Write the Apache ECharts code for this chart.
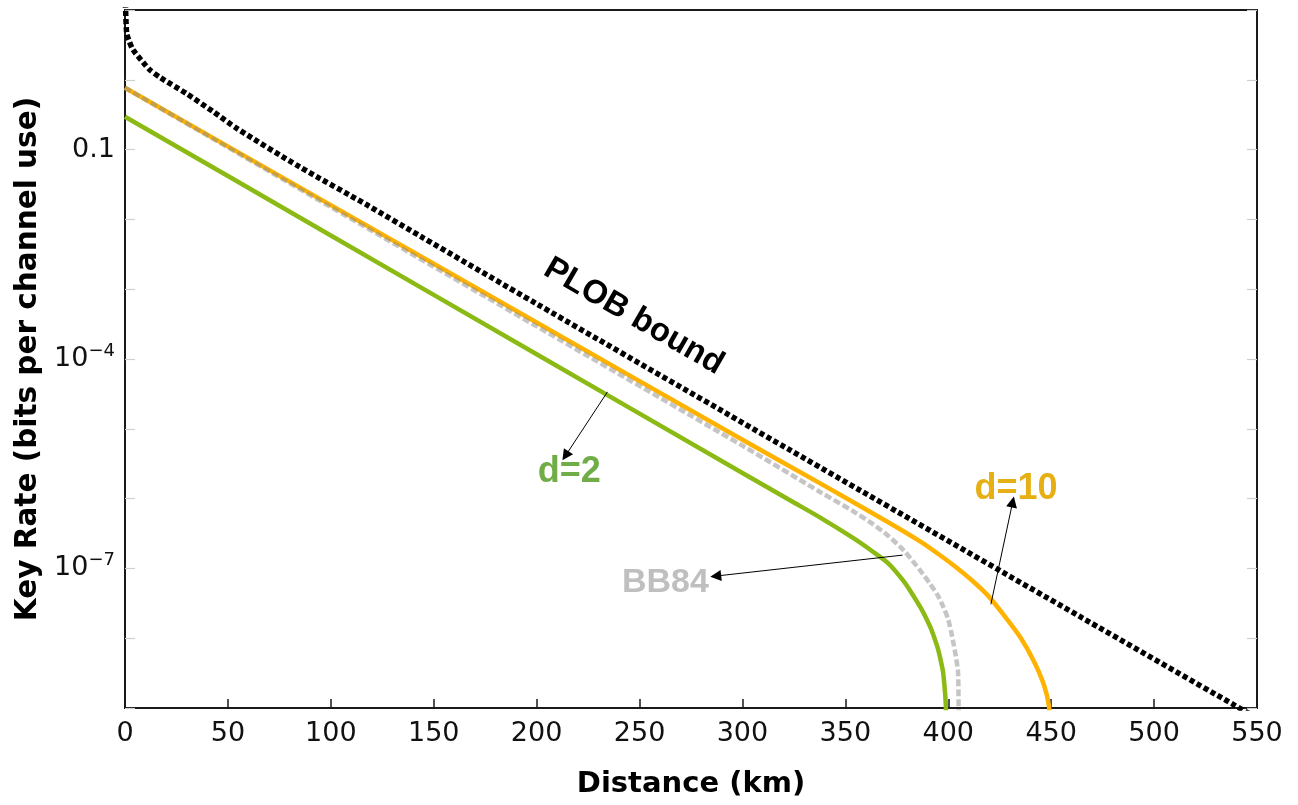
<!DOCTYPE html>
<html><head><meta charset="utf-8">
<script src="https://cdn.jsdelivr.net/npm/echarts@6/dist/echarts.min.js"></script>
<style>html,body{margin:0;padding:0;background:#fff}#c{width:1298px;height:805px}</style>
</head><body><div id="c"></div>
<script>
// ---- data ----
const plobKm   = [0.2, 0.8, 1.8, 3.9, 8.8, 12, 17, 30, 43, 54.5, 85, 118, 143.5, 200, 322, 464.5, 539, 550];
const plobRate = [12.6, 4.68, 3.72, 2.69, 1.78, 1.39, 1.084, 0.631, 0.347, 0.1995, 0.0562, 0.01585, 5.75e-3, 6.17e-4, 5.18e-6, 2.0e-8, 1.10e-9, 7.2e-10];

const d10Km   = [0, 100, 200, 300, 338, 370.6, 386.7, 395, 402.7, 411, 419.3, 427, 435.3, 441.6, 446.5, 448.9, 449.6];
const d10Rate = [0.769, 0.0160, 3.34e-4, 6.97e-6, 1.64e-6, 4.63e-7, 2.40e-7, 1.62e-7, 1.10e-7, 6.92e-8, 4.07e-8, 2.14e-8, 1.0e-8, 4.69e-9, 2.13e-9, 1.07e-9, 5e-10];

const bb84Km   = [0, 100, 200, 300, 338, 354.1, 362.5, 370.6, 378.4, 386.7, 391, 394.9, 397.6, 399.8, 401.5, 402.7, 403.9, 404.7, 404.95, 405.1];
const bb84Rate = [0.769, 0.01503, 2.94e-4, 5.74e-6, 1.23e-6, 6.52e-7, 4.5e-7, 2.96e-7, 1.81e-7, 9.06e-8, 6.1e-8, 4.11e-8, 2.8e-8, 1.93e-8, 1.2e-8, 7.94e-9, 5.0e-9, 3.38e-9, 1.8e-9, 5e-10];

const d2Km   = [0, 100, 200, 300, 325, 338, 354.1, 362.4, 370.6, 378.4, 382.5, 386.7, 389.2, 391.5, 393.3, 394.9, 396.2, 397.4, 398.2, 398.8, 399.0];
const d2Rate = [0.296, 5.89e-3, 1.17e-4, 2.33e-6, 8.8e-7, 5.3e-7, 2.69e-7, 1.82e-7, 1.2e-7, 6.52e-8, 4.3e-8, 2.69e-8, 1.95e-8, 1.39e-8, 1.0e-8, 7.19e-9, 5.0e-9, 3.38e-9, 2.0e-9, 1.10e-9, 5e-10];

// labelled powers of ten on the y axis
const yLabelPowers = [-1, -4, -7];

// annotations (data coordinates)
const annoText  = ['PLOB bound', 'd=2', 'BB84', 'd=10'];
const annoKm    = [247.2, 215.9, 262.6, 432.9];
const annoRate  = [4.07e-4, 2.4e-6, 6.21e-8, 1.37e-6];
const arrowFromKm   = [234.4, 377.8, 420.7];
const arrowFromRate = [3.38e-5, 1.55e-7, 3.06e-8];
const arrowToKm     = [214.0, 287.0, 431.3];
const arrowToRate   = [4.11e-6, 7.76e-8, 8.97e-7];

const zip = (a, b) => a.map((v, i) => [v, b[i]]);

const chart = echarts.init(document.getElementById('c'), null, {renderer: 'canvas'});

const annoColors = ['#000000', '#70AD47', '#BFBFBF', '#E6AF14'];
const annoSizes  = [33, 36, 34, 36];
const annoRot    = [-30, 0, 0, 0];

const option = {
  animation: false,
  backgroundColor: '#fff',
  grid: {left: 125, right: 41, top: 10, bottom: 97, show: true, borderColor: '#1a1a1a', borderWidth: 2, backgroundColor: 'transparent'},
  xAxis: {
    type: 'value', min: 0, max: 550, interval: 50,
    name: 'Distance (km)', nameLocation: 'middle', nameGap: 62,
    nameTextStyle: {fontFamily: 'DejaVu Sans', fontWeight: 'bold', fontSize: 29, color: '#000'},
    axisLine: {show: true, lineStyle: {color: '#1a1a1a', width: 2}},
    axisTick: {show: true, inside: true, length: 9, lineStyle: {color: '#1a1a1a', width: 1.5}},
    axisLabel: {fontFamily: 'DejaVu Sans', fontSize: 27, color: '#111', margin: 12},
    splitLine: {show: false}
  },
  yAxis: [{
    type: 'log', min: 1e-9, max: 10, splitNumber: 10,
    name: 'Key Rate (bits per channel use)', nameLocation: 'middle', nameGap: 76,
    nameTextStyle: {fontFamily: 'DejaVu Sans', fontWeight: 'bold', fontSize: 29.5, color: '#000'},
    axisLine: {show: true, lineStyle: {color: '#1a1a1a', width: 2}},
    axisTick: {show: true, inside: true, length: 10, lineStyle: {color: '#cfcfcf', width: 1.2}},
    axisLabel: {
      margin: 10, color: '#111', fontFamily: 'DejaVu Sans', fontSize: 27,
      formatter: function (v) {
        const p = Math.round(Math.log10(v));
        if (yLabelPowers.indexOf(p) < 0) return '';
        if (p === -1) return '{a|0.1}';
        return '{a|10}{b|\u2212' + (-p) + '}';
      },
      rich: {
        a: {fontFamily: 'DejaVu Sans', fontSize: 27, lineHeight: 34, color: '#111'},
        b: {fontFamily: 'DejaVu Sans', fontSize: 18, lineHeight: 18, verticalAlign: 'top', color: '#111'}
      }
    },
    splitLine: {show: false}
  }, {
    type: 'log', min: 1e-9, max: 10, splitNumber: 10, position: 'right',
    axisLine: {show: false},
    axisTick: {show: true, inside: true, length: 10, lineStyle: {color: '#cfcfcf', width: 1.2}},
    axisLabel: {show: false},
    splitLine: {show: false}
  }],
  series: [
    {
      name: 'd=2', type: 'line', data: zip(d2Km, d2Rate), showSymbol: false, symbol: 'none',
      smooth: 0.25, clip: true, z: 2,
      lineStyle: {color: '#8BBA15', width: 4.5, join: 'round'}
    },
    {
      name: 'd=10', type: 'line', data: zip(d10Km, d10Rate), showSymbol: false, symbol: 'none',
      smooth: 0.25, clip: true, z: 3,
      lineStyle: {color: '#FFB300', width: 4.5, join: 'round'}
    },
    {
      name: 'BB84', type: 'line', data: zip(bb84Km, bb84Rate), showSymbol: false, symbol: 'none',
      smooth: 0.25, clip: true, z: 4,
      lineStyle: {color: '#8c8c8c', opacity: 0.5, width: 4.5, type: [7, 3]}
    },
    {
      name: 'PLOB', type: 'line', data: zip(plobKm, plobRate), showSymbol: false, symbol: 'none',
      smooth: 0.25, clip: true, z: 5,
      lineStyle: {color: '#000', width: 5.5, type: [5, 3], cap: 'butt'},
      markLine: {
        silent: true, animation: false,
        symbol: ['none', 'triangle'], symbolSize: 11,
        label: {show: false},
        lineStyle: {color: '#000', width: 1, type: 'solid'},
        emphasis: {disabled: true},
        data: arrowFromKm.map((k, i) => [
          {coord: [k, arrowFromRate[i]]},
          {coord: [arrowToKm[i], arrowToRate[i]]}
        ])
      },
      markPoint: {
        silent: true, animation: false,
        symbol: 'circle', symbolSize: 0,
        data: annoText.map((t, i) => ({
          coord: [annoKm[i], annoRate[i]],
          label: {
            show: true, position: 'inside', formatter: t, rotate: annoRot[i],
            fontFamily: 'Liberation Sans', fontWeight: 'bold', fontSize: annoSizes[i], color: annoColors[i]
          }
        }))
      }
    }
  ]
};
chart.setOption(option);
</script>
</body></html>
